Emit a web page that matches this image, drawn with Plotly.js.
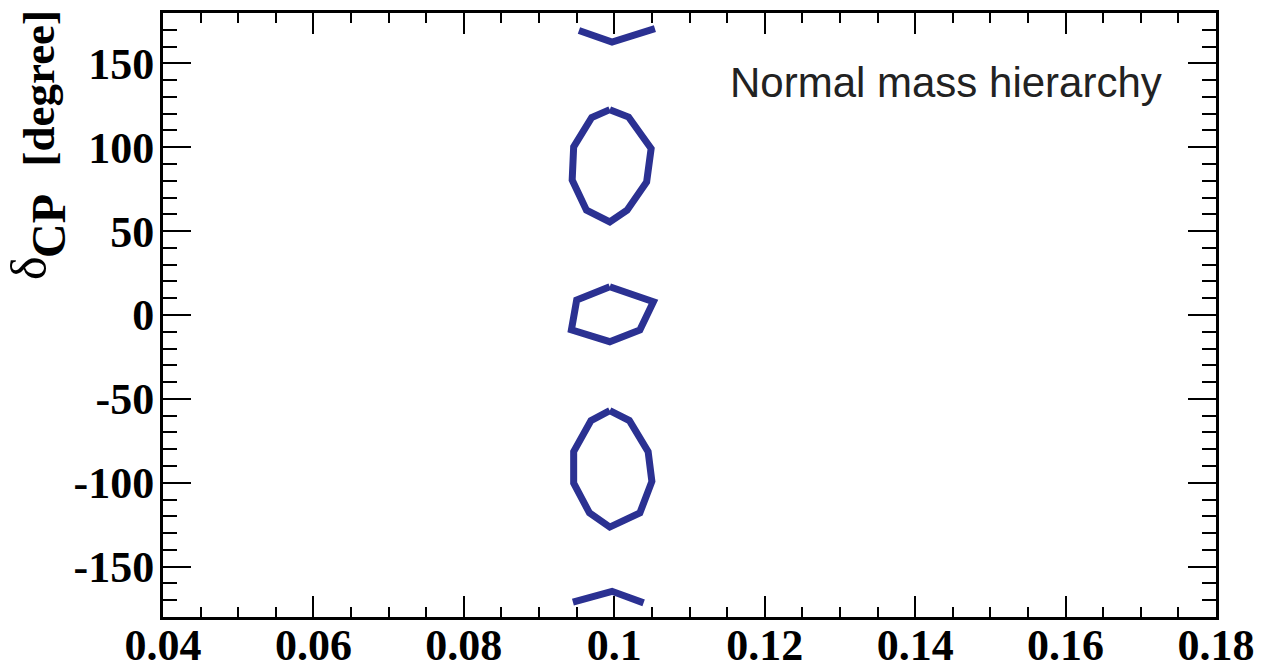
<!DOCTYPE html>
<html>
<head>
<meta charset="utf-8">
<script src="https://cdn.plot.ly/plotly-3.0.1.min.js"></script>
<style>
  html, body { margin: 0; padding: 0; background: #fff; }
  #chart { width: 1262px; height: 671px; }
</style>
</head>
<body>
<div id="chart"></div>
<script>
// Allowed-region contours in the (sin^2 2theta13, delta_CP) plane
const upperX = [0.0994, 0.0970, 0.0946, 0.0944, 0.0963, 0.0994, 0.1017, 0.1043, 0.1049, 0.1019, 0.0994];
const upperY = [122.4, 117.7, 100.2, 80.4, 62.5, 55.5, 62.5, 79.3, 99.2, 118.0, 122.4];

const middleX = [0.0994, 0.0950, 0.0943, 0.0994, 0.1034, 0.1052, 0.0994];
const middleY = [16.8, 8.9, -8.9, -15.9, -8.9, 7.9, 16.8];

const lowerX = [0.0994, 0.0969, 0.0946, 0.0946, 0.0967, 0.0994, 0.1034, 0.1050, 0.1045, 0.1020, 0.0994];
const lowerY = [-57.0, -62.9, -81.4, -100.2, -118.0, -126.4, -118.0, -99.2, -81.4, -62.9, -57.0];

const topArcX = [0.0953, 0.0997, 0.1054];
const topArcY = [169.6, 162.7, 170.7];

const bottomArcX = [0.0945, 0.0997, 0.1039];
const bottomArcY = [-171.2, -164.7, -171.6];

// Tick labels
const xTickVals = [0.04, 0.06, 0.08, 0.1, 0.12, 0.14, 0.16, 0.18];
const xTickText = ['0.04', '0.06', '0.08', '0.1', '0.12', '0.14', '0.16', '0.18'];
const yTickVals = [-150, -100, -50, 0, 50, 100, 150];
const yTickText = ['-150', '-100', '-50', '0', '50', '100', '150'];

const lineColor = '#2b3192';
const serif = 'Liberation Serif, Times New Roman, serif';

function contour(x, y) {
  return {
    x: x, y: y, type: 'scatter', mode: 'lines',
    line: { color: lineColor, width: 7 },
    hoverinfo: 'skip', showlegend: false
  };
}

const traces = [
  contour(topArcX, topArcY),
  contour(upperX, upperY),
  contour(middleX, middleY),
  contour(lowerX, lowerY),
  contour(bottomArcX, bottomArcY)
];

const axisCommon = {
  showgrid: false, zeroline: false,
  showline: true, linecolor: '#000', linewidth: 3,
  mirror: 'ticks', ticks: 'inside', tickcolor: '#000', tickwidth: 2,
  tickfont: { family: serif, size: 44, color: '#000', weight: 'bold' },
  tickmode: 'array'
};

const layout = {
  width: 1262, height: 671,
  margin: { l: 163, r: 46, t: 13, b: 54 },
  paper_bgcolor: '#fff', plot_bgcolor: '#fff',
  xaxis: Object.assign({}, axisCommon, {
    range: [0.04, 0.18],
    tickvals: xTickVals, ticktext: xTickText,
    ticklen: 21,
    ticklabelstandoff: -13,
    minor: { dtick: 0.005, ticks: 'inside', ticklen: 10, tickwidth: 2, tickcolor: '#000', showgrid: false }
  }),
  yaxis: Object.assign({}, axisCommon, {
    range: [-180, 180],
    tickvals: yTickVals, ticktext: yTickText,
    ticklen: 28,
    ticklabelstandoff: -3,
    minor: { dtick: 10, ticks: 'inside', ticklen: 14, tickwidth: 2, tickcolor: '#000', showgrid: false }
  }),
  annotations: [
    {
      text: 'δ', xref: 'paper', yref: 'paper', x: -0.1272, y: 0.5778,
      xanchor: 'center', yanchor: 'middle', textangle: -90, showarrow: false,
      font: { family: serif, size: 50, color: '#000' }
    },
    {
      text: '<b>CP</b>', xref: 'paper', yref: 'paper', x: -0.1083, y: 0.6474,
      xanchor: 'center', yanchor: 'middle', textangle: -90, showarrow: false,
      font: { family: serif, size: 48, color: '#000' }
    },
    {
      text: '<b>[degree]</b>', xref: 'paper', yref: 'paper', x: -0.1187, y: 0.875,
      xanchor: 'center', yanchor: 'middle', textangle: -90, showarrow: false,
      font: { family: serif, size: 45, color: '#000' }
    },
    {
      text: 'Normal mass hierarchy', xref: 'paper', yref: 'paper', x: 0.7436, y: 0.885,
      xanchor: 'center', yanchor: 'middle', showarrow: false,
      font: { family: 'Liberation Sans, Arial, sans-serif', size: 42, color: '#222' }
    }
  ]
};

Plotly.newPlot('chart', traces, layout, { displayModeBar: false, staticPlot: true });
</script>
</body>
</html>
